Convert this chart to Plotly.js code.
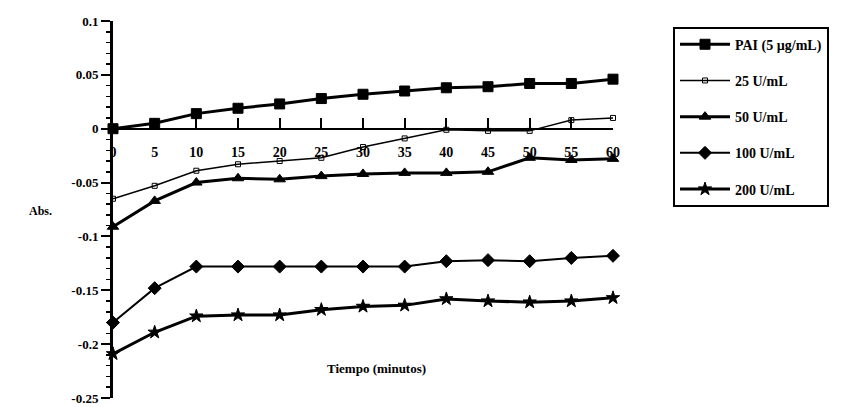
<!DOCTYPE html>
<html>
<head>
<meta charset="utf-8">
<script src="https://cdn.plot.ly/plotly-3.0.1.min.js"></script>
<style>html,body{margin:0;padding:0;background:#fff;}#chart{width:860px;height:407px;}</style>
</head>
<body>
<div id="chart"></div>
<script>
const times = [0, 5, 10, 15, 20, 25, 30, 35, 40, 45, 50, 55, 60];
const seriesNames = ["PAI (5 µg/mL)", "25 U/mL", "50 U/mL", "100 U/mL", "200 U/mL"];
const pai  = [0, 0.005, 0.014, 0.019, 0.023, 0.028, 0.032, 0.035, 0.038, 0.039, 0.042, 0.042, 0.046];
const u25  = [-0.065, -0.053, -0.039, -0.033, -0.030, -0.027, -0.017, -0.009, -0.001, -0.002, -0.002, 0.008, 0.010];
const u50  = [-0.091, -0.067, -0.050, -0.046, -0.047, -0.044, -0.042, -0.041, -0.041, -0.040, -0.027, -0.029, -0.028];
const u100 = [-0.180, -0.148, -0.128, -0.128, -0.128, -0.128, -0.128, -0.128, -0.123, -0.122, -0.123, -0.120, -0.118];
const u200 = [-0.209, -0.189, -0.174, -0.173, -0.173, -0.168, -0.165, -0.164, -0.158, -0.160, -0.161, -0.160, -0.157];
const xTickVals = [0, 5, 10, 15, 20, 25, 30, 35, 40, 45, 50, 55, 60];
const yTickVals = [0.1, 0.05, 0, -0.05, -0.1, -0.15, -0.2, -0.25];
const yTickText = ["0.1", "0.05", "0", "-0.05", "-0.1", "-0.15", "-0.2", "-0.25"];
const xTitle = "Tiempo (minutos)";
const yTitle = "Abs.";

const F = "Liberation Serif, Times New Roman, serif";
const values = [pai, u25, u50, u100, u200];
const styles = [
  {sym: "square", size: 10, w: 3},
  {sym: "square-open", size: 5, w: 1.5},
  {sym: "triangle-up", size: 10, w: 3},
  {sym: "diamond", size: 10, w: 2},
  {sym: "star", size: 10, w: 3}
];
const traces = values.map((v, i) => ({
  type: "scatter", mode: "lines+markers", x: times, y: v, name: seriesNames[i],
  legendgroup: "g" + i, cliponaxis: false,
  line: {color: "#000", width: styles[i].w},
  marker: {symbol: styles[i].sym, size: styles[i].size, color: "#000", line: {color: "#000", width: 1}}
}));

const layout = {
  width: 860, height: 407,
  margin: {l: 113, r: 247, t: 21, b: 9},
  paper_bgcolor: "#fff", plot_bgcolor: "#fff",
  font: {family: F, size: 13, color: "#000", weight: "bold"},
  showlegend: true,
  legend: {
    x: 1.12, y: 0.985, xanchor: "left", yanchor: "top",
    bordercolor: "#000", borderwidth: 2, bgcolor: "#fff",
    font: {family: F, size: 14, color: "#000", weight: "bold"},
    tracegroupgap: 15, itemwidth: 50, traceorder: "grouped"
  },
  xaxis: {
    range: [0, 60], anchor: "free", position: 0.7143,
    tickvals: xTickVals, ticks: "inside", ticklen: 10, tickwidth: 2, tickcolor: "#000",
    showline: true, linecolor: "#000", linewidth: 2.5,
    showgrid: false, zeroline: false, ticklabelstandoff: 10,
    tickfont: {family: F, size: 14, color: "#000", weight: "bold"}
  },
  yaxis: {
    range: [-0.25, 0.1], tickvals: yTickVals, ticktext: yTickText,
    ticks: "outside", ticklen: 9, tickwidth: 2, tickcolor: "#000",
    minor: {dtick: 0.01, tick0: 0, ticks: "outside", ticklen: 4, tickwidth: 1.5, tickcolor: "#000"},
    showline: true, linecolor: "#000", linewidth: 3,
    showgrid: false, zeroline: false,
    tickfont: {family: F, size: 13, color: "#000", weight: "bold"}
  },
  annotations: [
    {text: yTitle, xref: "paper", yref: "paper", x: -0.172, y: 0.496, showarrow: false,
     font: {family: F, size: 12, color: "#000", weight: "bold"}},
    {text: xTitle, xref: "x", yref: "y", x: 31.6, y: -0.223, showarrow: false,
     font: {family: F, size: 13, color: "#000", weight: "bold"}}
  ]
};
Plotly.newPlot("chart", traces, layout, {displayModeBar: false, staticPlot: true});
</script>
</body>
</html>
